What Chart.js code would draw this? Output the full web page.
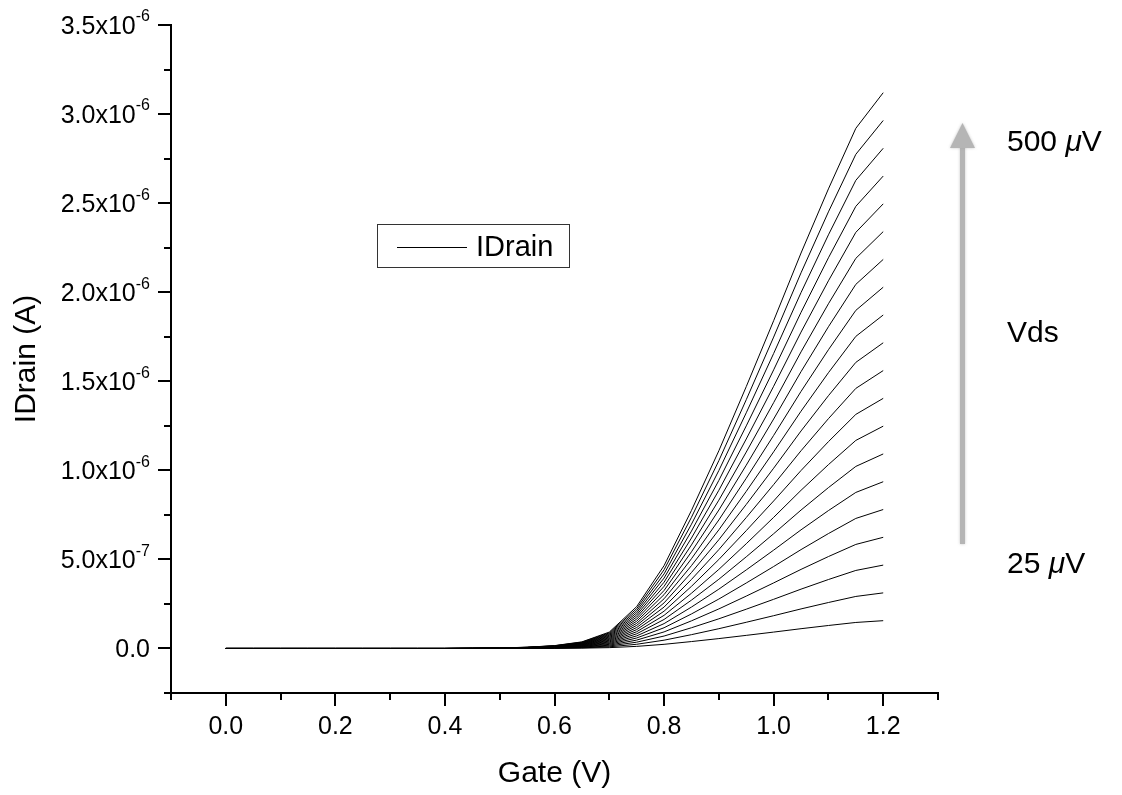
<!DOCTYPE html>
<html>
<head>
<meta charset="utf-8">
<script src="https://cdn.jsdelivr.net/npm/chart.js@4.4.1/dist/chart.umd.min.js"></script>
<style>
  html, body { margin: 0; padding: 0; background: #fff; }
  canvas { display: block; }
</style>
</head>
<body>
<canvas id="c" width="1122" height="795"></canvas>
<script>
// ---- data (IDrain in units of 1e-6 A) ----
const gateV = [0.00, 0.05, 0.10, 0.15, 0.20, 0.25, 0.30, 0.35, 0.40, 0.45, 0.50, 0.55, 0.60,
               0.65, 0.70, 0.75, 0.80, 0.85, 0.90, 0.95, 1.00, 1.05, 1.10, 1.15, 1.20];

const vds025 = [0,0,0,0,0,0,0,0,0, 0.0001,0.0002,0.0004,0.0008,0.0019,0.0046,0.0118,0.0233,0.0388,0.0555,0.0735,0.092,0.111,0.129,0.146,0.156];
const vds050 = [0,0,0,0,0,0,0,0,0, 0.0001,0.0003,0.0007,0.0016,0.0037,0.0092,0.0235,0.0465,0.0775,0.111,0.147,0.184,0.222,0.258,0.292,0.312];
const vds075 = [0,0,0,0,0,0,0,0,0, 0.0002,0.0005,0.0011,0.0024,0.0056,0.0138,0.0353,0.0698,0.1163,0.1665,0.2205,0.276,0.333,0.387,0.438,0.468];
const vds100 = [0,0,0,0,0,0,0,0,0, 0.0002,0.0006,0.0014,0.0032,0.0074,0.0184,0.047,0.093,0.155,0.222,0.294,0.368,0.444,0.516,0.584,0.624];
const vds125 = [0,0,0,0,0,0,0,0,0, 0.0003,0.0008,0.0018,0.004,0.0093,0.023,0.0588,0.1163,0.1938,0.2775,0.3675,0.46,0.555,0.645,0.73,0.78];
const vds150 = [0,0,0,0,0,0,0,0,0, 0.0003,0.0009,0.0021,0.0048,0.0111,0.0276,0.0705,0.1395,0.2325,0.333,0.441,0.552,0.666,0.774,0.876,0.936];
const vds175 = [0,0,0,0,0,0,0,0,0, 0.0004,0.0011,0.0025,0.0056,0.013,0.0322,0.0823,0.1628,0.2713,0.3885,0.5145,0.644,0.777,0.903,1.022,1.092];
const vds200 = [0,0,0,0,0,0,0,0,0, 0.0004,0.0012,0.0028,0.0064,0.0148,0.0368,0.094,0.186,0.31,0.444,0.588,0.736,0.888,1.032,1.168,1.248];
const vds225 = [0,0,0,0,0,0,0,0,0, 0.0005,0.0014,0.0032,0.0072,0.0167,0.0414,0.1058,0.2093,0.3488,0.4995,0.6615,0.828,0.999,1.161,1.314,1.404];
const vds250 = [0,0,0,0,0,0,0,0,0, 0.0005,0.0015,0.0035,0.008,0.0185,0.046,0.1175,0.2325,0.3875,0.555,0.735,0.92,1.11,1.29,1.46,1.56];
const vds275 = [0,0,0,0,0,0,0,0,0, 0.0006,0.0017,0.0039,0.0088,0.0204,0.0506,0.1293,0.2558,0.4263,0.6105,0.8085,1.012,1.221,1.419,1.606,1.716];
const vds300 = [0,0,0,0,0,0,0,0,0, 0.0006,0.0018,0.0042,0.0096,0.0222,0.0552,0.141,0.279,0.465,0.666,0.882,1.104,1.332,1.548,1.752,1.872];
const vds325 = [0,0,0,0,0,0,0,0,0, 0.0007,0.002,0.0046,0.0104,0.0241,0.0598,0.1528,0.3023,0.5038,0.7215,0.9555,1.196,1.443,1.677,1.898,2.028];
const vds350 = [0,0,0,0,0,0,0,0,0, 0.0007,0.0021,0.0049,0.0112,0.0259,0.0644,0.1645,0.3255,0.5425,0.777,1.029,1.288,1.554,1.806,2.044,2.184];
const vds375 = [0,0,0,0,0,0,0,0,0, 0.0008,0.0023,0.0053,0.012,0.0278,0.069,0.1763,0.3488,0.5813,0.8325,1.1025,1.38,1.665,1.935,2.19,2.34];
const vds400 = [0,0,0,0,0,0,0,0,0, 0.0008,0.0024,0.0056,0.0128,0.0296,0.0736,0.188,0.372,0.62,0.888,1.176,1.472,1.776,2.064,2.336,2.496];
const vds425 = [0,0,0,0,0,0,0,0,0, 0.0009,0.0026,0.006,0.0136,0.0315,0.0782,0.1998,0.3953,0.6588,0.9435,1.2495,1.564,1.887,2.193,2.482,2.652];
const vds450 = [0,0,0,0,0,0,0,0,0, 0.0009,0.0027,0.0063,0.0144,0.0333,0.0828,0.2115,0.4185,0.6975,0.999,1.323,1.656,1.998,2.322,2.628,2.808];
const vds475 = [0,0,0,0,0,0,0,0,0, 0.001,0.0029,0.0067,0.0152,0.0352,0.0874,0.2233,0.4418,0.7363,1.0545,1.3965,1.748,2.109,2.451,2.774,2.964];
const vds500 = [0,0,0,0,0,0,0,0,0, 0.001,0.003,0.007,0.016,0.037,0.092,0.235,0.465,0.775,1.11,1.47,1.84,2.22,2.58,2.92,3.12];

const seriesNames = ['25 µV','50 µV','75 µV','100 µV','125 µV','150 µV','175 µV','200 µV','225 µV','250 µV',
                     '275 µV','300 µV','325 µV','350 µV','375 µV','400 µV','425 µV','450 µV','475 µV','500 µV'];
const seriesList = [vds025, vds050, vds075, vds100, vds125, vds150, vds175, vds200, vds225, vds250,
                    vds275, vds300, vds325, vds350, vds375, vds400, vds425, vds450, vds475, vds500];

// ---- tick labels ----
const xMajor = [0.0, 0.2, 0.4, 0.6, 0.8, 1.0, 1.2];
const xMajorLabels = ['0.0', '0.2', '0.4', '0.6', '0.8', '1.0', '1.2'];
const xMinor = [-0.1, 0.1, 0.3, 0.5, 0.7, 0.9, 1.1, 1.3];
const yMajor = [0.0, 0.5, 1.0, 1.5, 2.0, 2.5, 3.0, 3.5];
const yMajorMant = ['0.0', '5.0x10', '1.0x10', '1.5x10', '2.0x10', '2.5x10', '3.0x10', '3.5x10'];
const yMajorExp = ['', '-7', '-6', '-6', '-6', '-6', '-6', '-6'];
const yMinor = [-0.25, 0.25, 0.75, 1.25, 1.75, 2.25, 2.75, 3.25];

const FONT = '"Liberation Sans", Arial, Helvetica, sans-serif';

const decorPlugin = {
  id: 'decor',
  afterDraw(chart) {
    const ctx = chart.ctx;
    const xs = chart.scales.x, ys = chart.scales.y;
    const axX = chart.chartArea.left, axY = chart.chartArea.bottom;
    ctx.save();
    ctx.strokeStyle = '#000';
    ctx.lineWidth = 2;
    // x ticks
    ctx.beginPath();
    xMajor.forEach(v => { const p = Math.round(xs.getPixelForValue(v)); ctx.moveTo(p, axY); ctx.lineTo(p, axY + 13); });
    xMinor.forEach(v => { const p = Math.round(xs.getPixelForValue(v)); ctx.moveTo(p, axY); ctx.lineTo(p, axY + 7); });
    // y ticks
    yMajor.forEach(v => { const p = Math.round(ys.getPixelForValue(v)); ctx.moveTo(axX, p); ctx.lineTo(axX - 13, p); });
    yMinor.forEach(v => { const p = Math.round(ys.getPixelForValue(v)); ctx.moveTo(axX, p); ctx.lineTo(axX - 7, p); });
    ctx.stroke();

    // x tick labels
    ctx.fillStyle = '#000';
    ctx.font = '25px ' + FONT;
    ctx.textAlign = 'center';
    ctx.textBaseline = 'middle';
    xMajor.forEach((v, i) => { ctx.fillText(xMajorLabels[i], xs.getPixelForValue(v), axY + 34); });

    // y tick labels with superscript exponents
    const rightEdge = axX - 21;
    yMajor.forEach((v, i) => {
      const p = ys.getPixelForValue(v) + 2;
      let supW = 0;
      if (yMajorExp[i]) {
        ctx.font = '16px ' + FONT;
        supW = ctx.measureText(yMajorExp[i]).width;
        ctx.textAlign = 'right';
        ctx.fillText(yMajorExp[i], rightEdge, p - 10);
      }
      ctx.font = '25px ' + FONT;
      ctx.textAlign = 'right';
      ctx.fillText(yMajorMant[i], rightEdge - supW, p);
    });

    // legend box
    ctx.lineWidth = 1;
    ctx.strokeStyle = '#333';
    ctx.strokeRect(377.5, 224.5, 192, 43);
    ctx.strokeStyle = '#000';
    ctx.beginPath();
    ctx.moveTo(397, 247.5); ctx.lineTo(467, 247.5);
    ctx.stroke();
    ctx.font = '29px ' + FONT;
    ctx.textAlign = 'left';
    ctx.textBaseline = 'middle';
    ctx.fillText('IDrain', 476, 248);

    // gray arrow
    ctx.save();
    ctx.fillStyle = '#b5b5b5';
    ctx.strokeStyle = '#b5b5b5';
    ctx.shadowColor = 'rgba(160,160,160,0.6)';
    ctx.shadowBlur = 3;
    ctx.fillRect(960, 140, 5, 404);
    ctx.beginPath();
    ctx.moveTo(962.5, 123);
    ctx.lineTo(975, 148);
    ctx.lineTo(950, 148);
    ctx.closePath();
    ctx.fill();
    ctx.restore();

    // annotations
    const drawMu = (prefix, y) => {
      let x = 1007;
      ctx.font = '30px ' + FONT;
      ctx.textAlign = 'left';
      ctx.fillText(prefix, x, y);
      x += ctx.measureText(prefix).width;
      ctx.font = 'italic 30px ' + FONT;
      ctx.fillText('\u03BC', x, y);
      x += ctx.measureText('\u03BC').width;
      ctx.font = '30px ' + FONT;
      ctx.fillText('V', x, y);
    };
    drawMu('500 ', 143);
    ctx.font = '30px ' + FONT;
    ctx.fillText('Vds', 1007, 334);
    drawMu('25 ', 565);
    ctx.restore();
  }
};

const datasets = seriesList.map((arr, i) => ({
  label: seriesNames[i],
  data: gateV.map((g, j) => ({ x: g, y: arr[j] })),
  borderColor: '#000',
  backgroundColor: '#000',
  borderWidth: 1,
  pointRadius: 0,
  tension: 0,
  fill: false
}));

new Chart(document.getElementById('c'), {
  type: 'line',
  data: { datasets },
  options: {
    responsive: false,
    devicePixelRatio: 1,
    animation: false,
    layout: { padding: { top: 25, right: 184, left: 0, bottom: 0 } },
    plugins: { legend: { display: false }, tooltip: { enabled: false } },
    scales: {
      x: {
        type: 'linear', min: -0.1, max: 1.3,
        ticks: { display: false },
        grid: { display: false },
        border: { display: true, color: '#000', width: 2 },
        title: { display: true, text: 'Gate (V)', color: '#000', font: { size: 30, family: FONT }, padding: { top: 0, bottom: 3 } },
        afterFit: s => { s.height = 102; }
      },
      y: {
        type: 'linear', min: -0.25, max: 3.5,
        ticks: { display: false },
        grid: { display: false },
        border: { display: true, color: '#000', width: 2 },
        title: { display: true, text: 'IDrain (A)', color: '#000', font: { size: 30, family: FONT }, padding: { top: 9, bottom: 0 } },
        afterFit: s => { s.width = 171; }
      }
    }
  },
  plugins: [decorPlugin]
});
</script>
</body>
</html>
